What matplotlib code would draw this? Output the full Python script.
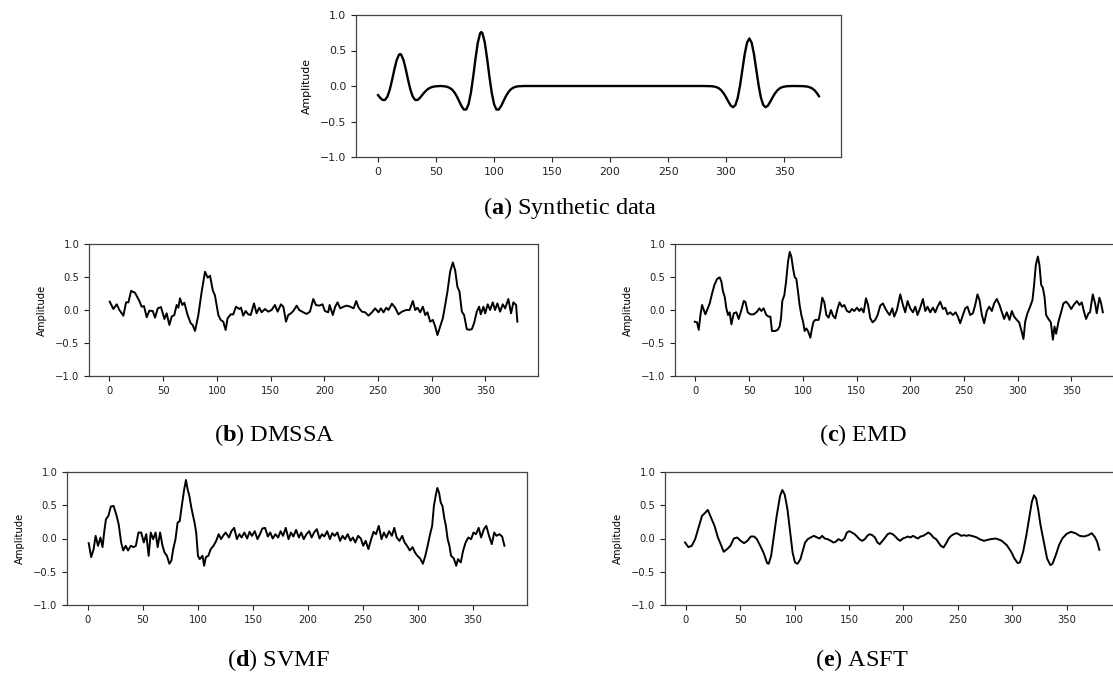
import matplotlib
matplotlib.use("Agg")
import matplotlib.pyplot as plt

# ---------------- data ----------------
# (a) Synthetic data
x_a = [0, 2, 4, 6, 8, 10, 12, 14, 16, 18, 19, 20, 22, 24, 26, 28, 30, 32, 34, 36, 38, 40, 42, 44, 46, 48, 50, 52, 54,
       56, 58, 60, 62, 64, 66, 68, 70, 72, 74, 76, 78, 80, 82, 84, 86, 88, 89, 90, 92, 94, 96, 98, 100, 102, 104, 106,
       108, 110, 112, 114, 116, 118, 120, 122, 126, 150, 200, 250, 280, 286, 288, 290, 292, 294, 296, 298, 300, 302,
       304, 306, 308, 310, 312, 314, 316, 318, 320, 322, 324, 326, 328, 330, 332, 334, 336, 338, 340, 342, 344, 346,
       348, 350, 352, 354, 358, 366, 370, 372, 374, 376, 378, 380]
y_a = [-0.128, -0.169, -0.197, -0.196, -0.152, -0.058, 0.077, 0.229, 0.362, 0.44, 0.45, 0.44, 0.362, 0.229, 0.077,
       -0.058, -0.152, -0.196, -0.197, -0.169, -0.128, -0.088, -0.056, -0.032, -0.017, -0.009, -0.004, -0.002, 0.0,
       -0.003, -0.006, -0.014, -0.029, -0.054, -0.094, -0.149, -0.217, -0.285, -0.332, -0.331, -0.257, -0.098, 0.130,
       0.387, 0.612, 0.743, 0.76, 0.743, 0.612, 0.387, 0.130, -0.098, -0.257, -0.331, -0.332, -0.285, -0.217, -0.149,
       -0.094, -0.054, -0.029, -0.014, -0.006, -0.003, 0.0, 0.0, 0.0, 0.0, 0.0, -0.002, -0.004, -0.009, -0.018, -0.035,
       -0.064, -0.106, -0.161, -0.222, -0.276, -0.299, -0.268, -0.166, 0.008, 0.228, 0.448, 0.610, 0.670, 0.610, 0.448,
       0.228, 0.008, -0.166, -0.268, -0.299, -0.276, -0.222, -0.161, -0.106, -0.064, -0.035, -0.018, -0.009, -0.004,
       -0.002, 0.0, -0.002, -0.008, -0.018, -0.032, -0.057, -0.095, -0.144]

# (b) DMSSA
x_b = [0.3, 3.7, 6.8, 9.3, 13, 15.5, 17.7, 20.2, 23.9, 27.9, 30, 32.2, 34.7, 37.2, 40.3, 42.5, 45, 48, 51.2, 53.3,
       55.8, 58, 60.4, 62.6, 64.2, 65.7, 67.9, 69.8, 72.6, 75.7, 77.5, 79.7, 82.8, 85.9, 89, 91.5, 93.7, 96.2, 98.3,
       101.4, 103.6, 106, 108.2, 110, 112.9, 115.3, 117.8, 120.9, 122.5, 124.6, 126.8, 129.3, 131.5, 134.6, 137, 139.5,
       141.7, 144.8, 147.9, 151, 154.1, 156.6, 159.7, 161.9, 164.4, 166.5, 169, 171.2, 174.3, 176.7, 180.5, 183.6,
       186.7, 189.8, 192.2, 195.3, 198.4, 200.6, 203.7, 205, 208, 210.2, 212.4, 214.9, 218, 221.1, 224.2, 227.3, 229.8,
       232, 235.1, 238.1, 241.2, 244.4, 247.4, 250.5, 252.7, 255.2, 257.7, 259.8, 263, 266, 269.1, 272.3, 276.3, 279.4,
       282.5, 284.7, 286.8, 289.3, 291.8, 294, 296.1, 298.6, 301.1, 303.3, 305.4, 307.9, 310.4, 312.6, 314.7, 317.2,
       319.7, 321.9, 324, 325.9, 328.1, 330.2, 332.7, 335.2, 337.4, 339.5, 342, 344.2, 345.7, 348.2, 349.8, 352.2,
       354.4, 356.9, 359, 361.2, 363.7, 366.2, 368.4, 371.4, 373.9, 376.1, 378.6, 379.8]
y_b = [0.126, 0.015, 0.086, 0.0, -0.086, 0.116, 0.116, 0.29, 0.26, 0.136, 0.05, 0.06, -0.11, -0.01, -0.015, -0.116,
       0.025, 0.045, -0.136, -0.05, -0.227, -0.1, -0.076, 0.076, 0.035, 0.177, 0.076, 0.11, -0.066, -0.2, -0.227,
       -0.318, -0.076, 0.278, 0.58, 0.49, 0.52, 0.3, 0.217, -0.076, -0.15, -0.177, -0.303, -0.126, -0.066, -0.066,
       0.05, 0.015, 0.035, -0.086, -0.015, -0.066, -0.076, 0.1, -0.05, 0.035, -0.035, 0.015, -0.025, 0.0, 0.076,
       -0.025, 0.086, 0.05, -0.177, -0.076, -0.05, -0.015, 0.066, 0.0, -0.035, -0.06, -0.025, 0.167, 0.076, 0.066,
       0.086, -0.015, -0.035, 0.076, -0.076, 0.05, 0.116, 0.025, 0.05, 0.066, 0.05, 0.025, 0.136, 0.035, -0.025,
       -0.035, -0.086, -0.035, 0.025, -0.035, 0.025, -0.035, 0.035, 0.0, 0.096, 0.035, -0.066, -0.025, 0.0, 0.0,
       0.136, 0.0, 0.035, -0.035, 0.05, -0.076, -0.035, -0.177, -0.15, -0.25, -0.38, -0.25, -0.126, 0.076, 0.28,
       0.58, 0.72, 0.6, 0.35, 0.28, -0.025, -0.076, -0.29, -0.3, -0.29, -0.2, -0.025, 0.05, -0.066, 0.05, -0.05,
       0.086, 0.0, 0.116, 0.0, 0.1, -0.025, 0.086, 0.025, 0.167, -0.05, 0.116, 0.076, -0.177]

# (c) EMD
x_c = [-0.6, 1.5, 3.1, 4.7, 6.2, 7.8, 9.3, 10.9, 13.3, 15.5, 17.7, 20.2, 22.6, 24.2, 25.7, 27.3, 28.8, 30.4, 31.9,
       33.5, 35.7, 38.1, 40.3, 42.8, 45, 46.5, 48.7, 51.2, 54.3, 57.4, 59.5, 61.4, 63.5, 66, 68.2, 69.8, 71.3, 74.4,
       76.6, 78.4, 79.7, 80.9, 82.8, 84.4, 86.2, 87.8, 89.3, 90.9, 92.4, 94, 95.5, 97, 98.6, 100.2, 101.7, 103.3,
       104.8, 107, 108.5, 110, 111.6, 113.2, 114.7, 116.3, 118.1, 120, 121.9, 124, 126.2, 128.1, 130.2, 132.4, 134.2,
       136.4, 138.6, 141.1, 143.5, 145.7, 147.9, 150.4, 152.6, 154.4, 156.6, 158.8, 160.6, 162.8, 164.9, 167.4, 169.6,
       172.1, 174.6, 176.7, 178.9, 180.8, 183.3, 185.1, 187.6, 190.7, 193.2, 195.3, 197.5, 200, 202.5, 204.7, 206.8,
       209.3, 211.8, 214, 216.1, 218.6, 221.1, 223.3, 225.4, 227.9, 230.4, 232.6, 234.7, 237.2, 239.7, 242.2, 244.3,
       246.5, 249, 251.2, 253.3, 255.8, 258.3, 260.5, 262.6, 264.5, 266.7, 268.8, 271.3, 273.5, 276, 278.1, 280.6,
       283.1, 285.3, 287.4, 289.9, 292.4, 294.6, 296.7, 299.2, 301.4, 303.9, 305.4, 307, 309.1, 311.6, 313.8, 315.3,
       316.9, 318.8, 320.3, 321.9, 323.4, 325, 326.5, 328.7, 330.9, 332.8, 334.3, 335.8, 338, 340.2, 342.6, 345.1,
       347.3, 349.8, 352.6, 355.1, 357.5, 359.7, 361.9, 363.7, 365.9, 367.4, 369.9, 372.1, 373.6, 376.1, 377.7, 379.3]
y_c = [-0.177, -0.187, -0.3, -0.076, 0.076, 0.0, -0.066, 0.0, 0.1, 0.25, 0.38, 0.47, 0.495, 0.43, 0.28, 0.2, 0.025,
       -0.076, -0.035, -0.217, -0.05, -0.035, -0.136, 0.0, 0.136, 0.126, -0.035, -0.066, -0.066, -0.025, 0.025, -0.015,
       0.025, -0.076, -0.1, -0.1, -0.318, -0.318, -0.3, -0.25, -0.126, 0.136, 0.227, 0.43, 0.73, 0.88, 0.81, 0.63,
       0.5, 0.47, 0.28, 0.076, -0.076, -0.177, -0.318, -0.28, -0.318, -0.42, -0.28, -0.177, -0.15, -0.15, -0.15,
       -0.025, 0.187, 0.116, -0.076, -0.116, 0.0, -0.086, -0.126, 0.025, 0.116, 0.05, 0.076, -0.015, -0.035, 0.015,
       -0.015, 0.035, -0.015, 0.025, -0.035, 0.177, 0.086, -0.126, -0.187, -0.15, -0.076, 0.066, 0.1, 0.025, -0.035,
       -0.076, 0.025, -0.1, 0.0, 0.237, 0.076, -0.035, 0.136, 0.025, -0.035, 0.05, -0.076, 0.035, 0.167, -0.015,
       0.05, -0.035, 0.035, -0.035, 0.05, 0.126, 0.015, 0.035, -0.066, -0.035, -0.076, -0.035, -0.1, -0.2, -0.076,
       0.025, 0.05, -0.076, -0.05, 0.076, 0.237, 0.15, -0.076, -0.2, -0.015, 0.05, -0.015, 0.1, 0.167, 0.076, -0.035,
       -0.136, -0.035, -0.15, -0.015, -0.1, -0.15, -0.187, -0.338, -0.44, -0.177, -0.05, 0.05, 0.15, 0.38, 0.68,
       0.81, 0.68, 0.38, 0.34, 0.2, -0.076, -0.136, -0.187, -0.45, -0.25, -0.36, -0.177, -0.05, 0.1, 0.126, 0.086,
       0.015, 0.086, 0.136, 0.076, 0.116, -0.035, -0.136, -0.05, -0.035, 0.237, 0.1, -0.05, 0.187, 0.1, -0.035]

# (d) SVMF
x_d = [0.7, 3.0, 5.2, 7.0, 9.2, 11.4, 13.3, 14.9, 16.4, 18.6, 20.8, 23.3, 25.8, 28, 30.2, 32.1, 34.3, 36.5, 39, 41.5,
       43.6, 45.9, 48.4, 50.8, 53, 55.2, 57.1, 59.3, 61.5, 63.4, 65.6, 67.8, 69.6, 71.8, 74, 75.9, 77.5, 79.6, 81.5,
       83.4, 85.3, 87.5, 89.1, 90.6, 92.2, 93.7, 95.3, 96.9, 98.4, 100, 101.6, 104.1, 105.6, 107.2, 109.4, 111.6, 114.1,
       116.6, 118.8, 121, 122.8, 125.1, 128.2, 130.4, 132.9, 135.4, 137.6, 139.7, 142.2, 144.7, 146.9, 149.1, 151.6,
       154.1, 156.3, 158.5, 161, 163.5, 165.7, 167.9, 170.4, 172.9, 175.1, 177.3, 179.8, 182.3, 184.5, 186.7, 189.2,
       191.7, 193.9, 196.1, 198.6, 201.1, 203.3, 205.5, 208, 210.5, 212.7, 214.8, 217.4, 219.9, 222, 224.2, 226.7,
       229.2, 231.4, 233.6, 236.1, 238.6, 240.8, 243, 245.5, 248, 250.2, 252.4, 254.9, 257.4, 259.6, 261.8, 264.3,
       266.8, 269, 271.2, 273.7, 276.2, 278.4, 280.6, 283.1, 285.6, 287.8, 290, 292.5, 295, 297.2, 299.4, 301.9, 304.4,
       306.6, 308.7, 310.6, 312.8, 314.4, 316, 317.5, 319.1, 320.6, 322.2, 323.8, 325.3, 326.9, 328.5, 330, 332.5,
       334.7, 336.3, 338.8, 341, 343.2, 345.7, 348.2, 350.4, 352.6, 355.1, 357.3, 359.8, 362, 364.5, 367, 369.2, 371.3,
       373.9, 376.4, 378.5]
y_d = [-0.07, -0.28, -0.16, 0.04, -0.11, 0.015, -0.13, 0.11, 0.29, 0.34, 0.48, 0.49, 0.36, 0.21, -0.06, -0.18, -0.11,
       -0.18, -0.11, -0.13, -0.11, 0.09, 0.09, -0.06, 0.065, -0.26, 0.09, -0.01, 0.09, -0.13, 0.09, -0.11, -0.21,
       -0.26, -0.38, -0.33, -0.16, -0.01, 0.24, 0.26, 0.49, 0.74, 0.88, 0.74, 0.64, 0.49, 0.36, 0.24, 0.09, -0.26,
       -0.31, -0.26, -0.41, -0.28, -0.26, -0.16, -0.11, -0.035, 0.065, -0.01, 0.04, 0.09, 0.015, 0.11, 0.16, -0.01,
       0.065, 0.015, 0.09, 0.0, 0.1, 0.04, 0.11, -0.01, 0.065, 0.15, 0.16, 0.03, 0.09, 0.0, 0.065, 0.015, 0.11, 0.04,
       0.16, -0.01, 0.09, 0.03, 0.13, 0.015, 0.09, -0.01, 0.065, 0.11, 0.015, 0.09, 0.14, 0.0, 0.065, 0.03, 0.11,
       -0.01, 0.08, 0.04, 0.09, -0.035, 0.04, -0.01, 0.065, -0.035, 0.015, -0.06, 0.04, 0.0, -0.11, -0.035, -0.16,
       -0.01, 0.1, 0.065, 0.19, -0.01, 0.09, 0.015, 0.11, 0.04, 0.16, 0.015, -0.035, 0.04, -0.06, -0.11, -0.18, -0.13,
       -0.21, -0.26, -0.3, -0.38, -0.26, -0.11, 0.04, 0.19, 0.49, 0.64, 0.76, 0.69, 0.54, 0.49, 0.31, 0.19, -0.01,
       -0.11, -0.26, -0.3, -0.41, -0.31, -0.36, -0.18, -0.06, 0.015, -0.01, 0.09, 0.065, 0.16, 0.015, 0.14, 0.19,
       0.04, -0.085, 0.09, 0.04, 0.065, 0.03, -0.11]

# (e) ASFT
x_e = [-0.6, 2.5, 5.6, 8.7, 11.8, 15, 18.1, 20.3, 23.4, 26.5, 29.6, 32.8, 34.9, 38, 41.1, 44.2, 47.3, 50.5, 53.6,
       56.7, 59.8, 62.9, 65.4, 68.5, 71.7, 74.8, 76.3, 78.5, 81, 83.6, 86.7, 88.8, 91, 93.5, 96, 98.2, 100.4, 102.8,
       105.4, 107.5, 109.7, 112.2, 114.7, 117.8, 120.9, 123.1, 125.3, 127.8, 130.3, 133.4, 135.6, 137.8, 140.3, 143.4,
       145.9, 148.1, 150.3, 152.7, 155.2, 157.4, 159.6, 162.1, 164.6, 166.8, 169, 171.5, 173.9, 176.1, 178.3, 180.8,
       183.3, 185.5, 187.7, 190.2, 192.6, 194.8, 197, 199.5, 202, 204.2, 206.4, 208.9, 211.4, 213.5, 215.7, 218.2,
       220.7, 222.9, 225.1, 227.6, 230.1, 232.3, 234.4, 236.9, 239.4, 241.6, 243.8, 246.3, 248.8, 250.9, 253.1, 255.6,
       258.1, 260.3, 262.5, 265, 267.5, 270, 274, 280, 285, 290, 295, 299, 302, 305, 307, 310, 313, 316, 318, 320,
       322, 324, 326, 329, 332, 335, 337, 340, 343, 346, 350, 354, 358, 362, 366, 370, 373, 376, 378, 380]
y_e = [-0.06, -0.13, -0.11, -0.01, 0.16, 0.34, 0.39, 0.43, 0.31, 0.19, 0.015, -0.11, -0.2, -0.16, -0.11, 0.0, 0.015,
       -0.035, -0.07, -0.035, 0.03, 0.03, -0.01, -0.11, -0.22, -0.37, -0.38, -0.26, 0.04, 0.34, 0.64, 0.73, 0.66,
       0.44, 0.09, -0.21, -0.36, -0.38, -0.31, -0.185, -0.06, -0.01, 0.015, 0.04, 0.015, 0.0, 0.04, 0.0, -0.01,
       -0.035, -0.06, -0.05, -0.01, -0.035, 0.0, 0.09, 0.11, 0.09, 0.065, 0.03, -0.01, -0.035, -0.01, 0.04, 0.065,
       0.05, 0.015, -0.06, -0.085, -0.035, 0.015, 0.065, 0.08, 0.065, 0.03, -0.01, -0.035, 0.0, 0.015, 0.03, 0.015,
       0.04, 0.015, 0.0, 0.03, 0.04, 0.065, 0.09, 0.065, 0.015, -0.01, -0.06, -0.11, -0.135, -0.07, 0.0, 0.04, 0.065,
       0.08, 0.065, 0.04, 0.05, 0.04, 0.05, 0.04, 0.03, 0.015, -0.01, -0.035, -0.01, 0.0, -0.03, -0.1, -0.2, -0.3,
       -0.37, -0.36, -0.2, 0.05, 0.35, 0.55, 0.65, 0.6, 0.42, 0.2, -0.05, -0.3, -0.4, -0.38, -0.25, -0.1, 0.0, 0.07,
       0.1, 0.08, 0.04, 0.03, 0.05, 0.08, 0.02, -0.05, -0.17]

captions = [r"($\mathbf{a}$) Synthetic data", r"($\mathbf{b}$) DMSSA", r"($\mathbf{c}$) EMD",
            r"($\mathbf{d}$) SVMF", r"($\mathbf{e}$) ASFT"]
xticks = [0, 50, 100, 150, 200, 250, 300, 350]
yticks = [-1.0, -0.5, 0.0, 0.5, 1.0]

# ---------------- figure ----------------
plt.rcParams["mathtext.fontset"] = "custom"
plt.rcParams["mathtext.rm"] = "Liberation Serif"
plt.rcParams["mathtext.bf"] = "Liberation Serif:bold"

W, H = 1113, 684
fig = plt.figure(figsize=(W / 100, H / 100), dpi=100)
fig.patch.set_facecolor("white")


def add_axes(left, right, top, bottom):
    return fig.add_axes([left / W, 1 - bottom / H, (right - left) / W, (bottom - top) / H])


panels = [
    (add_axes(356, 841, 15, 157), x_a, y_a, 7.8, 1.7),
    (add_axes(89, 538, 244, 376), x_b, y_b, 7.2, 1.4),
    (add_axes(675, 1124, 244, 376), x_c, y_c, 7.2, 1.4),
    (add_axes(67, 527, 472, 605), x_d, y_d, 7.2, 1.4),
    (add_axes(665, 1120, 472, 605), x_e, y_e, 7.2, 1.4),
]

for ax, xs, ys, fs, lw in panels:
    ax.plot(xs, ys, color="black", lw=lw)
    ax.set_xlim(-19, 399)
    ax.set_ylim(-1, 1)
    ax.set_xticks(xticks)
    ax.set_yticks(yticks)
    ax.tick_params(labelsize=fs, length=3.5, width=0.8, colors="#222222")
    ax.set_ylabel("Amplitude", fontsize=fs, labelpad=6)
    for sp in ax.spines.values():
        sp.set_color("#444444")
        sp.set_linewidth(0.9)

cap_pos = [(570, 208), (275, 435), (863, 435), (278, 660), (862, 660)]
for (cx, cy), txt in zip(cap_pos, captions):
    fig.text(cx / W, 1 - cy / H, txt, ha="center", va="center",
             family="Liberation Serif", fontsize=17.5)

fig.savefig("out.png", dpi=100)
